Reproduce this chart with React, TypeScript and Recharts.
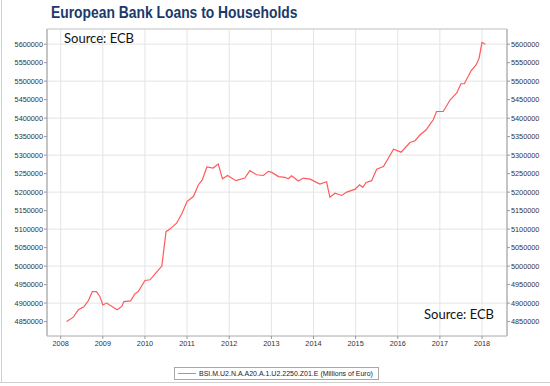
import { LineChart, Line, XAxis, YAxis, CartesianGrid, ReferenceArea } from "recharts";

// decimal year of each reading
const years = [
  2008.14, 2008.3, 2008.42, 2008.55, 2008.66, 2008.75, 2008.85, 2008.93, 2009.0, 2009.09,
  2009.34, 2009.45, 2009.5, 2009.66, 2009.76, 2009.84, 2010.0, 2010.12, 2010.24, 2010.4,
  2010.5, 2010.59, 2010.75, 2010.88, 2011.0, 2011.15, 2011.27, 2011.36, 2011.47, 2011.62,
  2011.74, 2011.84, 2011.96, 2012.16, 2012.37, 2012.49, 2012.65, 2012.81, 2012.93, 2013.0,
  2013.17, 2013.32, 2013.4, 2013.48, 2013.64, 2013.76, 2013.92, 2014.15, 2014.31, 2014.39,
  2014.51, 2014.67, 2014.79, 2014.99, 2015.09, 2015.17, 2015.25, 2015.38, 2015.5, 2015.66,
  2015.9, 2016.08, 2016.29, 2016.41, 2016.53, 2016.67, 2016.78, 2016.84, 2016.92, 2017.08,
  2017.24, 2017.4, 2017.5, 2017.58, 2017.74, 2017.86, 2017.93, 2018.0, 2018.08,
];

// loans to households, millions of euro
const loans = [
  4850000, 4862000, 4882000, 4890000, 4907000, 4931000, 4931000, 4918000, 4895000, 4900000,
  4882000, 4891000, 4904000, 4906000, 4925000, 4931000, 4961000, 4963000, 4979000, 5000000,
  5093000, 5100000, 5116000, 5143000, 5175000, 5188000, 5220000, 5233000, 5268000, 5265000,
  5276000, 5236000, 5245000, 5231000, 5238000, 5258000, 5247000, 5245000, 5256000, 5254000,
  5242000, 5240000, 5236000, 5244000, 5230000, 5238000, 5235000, 5222000, 5228000, 5186000,
  5197000, 5191000, 5200000, 5208000, 5220000, 5213000, 5226000, 5231000, 5262000, 5269000,
  5316000, 5308000, 5334000, 5339000, 5355000, 5368000, 5386000, 5395000, 5418000, 5418000,
  5449000, 5468000, 5493000, 5493000, 5528000, 5544000, 5562000, 5605000, 5600000,
];

const yearTicks = [2008, 2009, 2010, 2011, 2012, 2013, 2014, 2015, 2016, 2017, 2018];
const valueTicks = [
  4850000, 4900000, 4950000, 5000000, 5050000, 5100000, 5150000, 5200000,
  5250000, 5300000, 5350000, 5400000, 5450000, 5500000, 5550000, 5600000,
];

const data = years.map((x, i) => ({ x, v: loans[i] }));

const X_DOMAIN = [2007.675, 2018.593];
const Y_DOMAIN = [4811000, 5641000];

const tickStyle = { fontSize: 7.3, fill: "#333", fontFamily: "Liberation Sans, Arial, sans-serif" };
const sourceStyle: React.CSSProperties = {
  position: "absolute",
  fontFamily: "Lato, sans-serif",
  fontSize: 13,
  color: "#111",
  lineHeight: "15px",
};

export default function App() {
  return (
    <div style={{ position: "absolute", left: 0, top: 0, width: 550, height: 386, background: "#fff", overflow: "hidden" }}>
      <div style={{ position: "absolute", left: 1, top: 0, width: 0, height: 382, borderLeft: "1px solid #cfcfcf" }} />
      <div style={{ position: "absolute", left: 0, top: 382, width: 550, height: 0, borderTop: "1px solid #cfcfcf" }} />
      <div
        style={{
          position: "absolute",
          left: 51,
          top: 2,
          fontFamily: "Liberation Sans, Arial, sans-serif",
          fontWeight: "bold",
          fontSize: 16.5,
          lineHeight: "20px",
          color: "#1b3a6b",
          whiteSpace: "nowrap",
          transform: "scaleX(0.84)",
          transformOrigin: "left top",
        }}
      >
        European Bank Loans to Households
      </div>
      <LineChart width={550} height={386} data={data} margin={{ top: 29, right: 0, bottom: 0, left: 0 }}>
        <CartesianGrid yAxisId="left" stroke="#e4e4e4" strokeWidth={1} />
        <XAxis
          dataKey="x"
          type="number"
          domain={X_DOMAIN}
          ticks={yearTicks}
          allowDataOverflow
          height={50}
          tick={tickStyle}
          tickSize={3}
          tickMargin={2}
          tickLine={{ stroke: "#999" }}
          axisLine={{ stroke: "#c8c8c8" }}
        />
        <YAxis
          yAxisId="left"
          orientation="left"
          width={47}
          domain={Y_DOMAIN}
          ticks={valueTicks}
          allowDataOverflow
          tick={tickStyle}
          tickSize={3}
          tickMargin={1}
          tickLine={{ stroke: "#999" }}
          axisLine={{ stroke: "#bdbdbd", strokeWidth: 1.5 }}
        />
        <YAxis
          yAxisId="right"
          orientation="right"
          width={43}
          domain={Y_DOMAIN}
          ticks={valueTicks}
          allowDataOverflow
          tick={tickStyle}
          tickSize={3}
          tickMargin={1}
          tickLine={{ stroke: "#999" }}
          axisLine={{ stroke: "#bdbdbd", strokeWidth: 1.5 }}
        />
        <ReferenceArea
          yAxisId="left"
          x1={X_DOMAIN[0]}
          x2={X_DOMAIN[1]}
          y1={Y_DOMAIN[0]}
          y2={Y_DOMAIN[1]}
          fill="none"
          stroke="#cccccc"
        />
        <Line
          yAxisId="left"
          type="linear"
          dataKey="v"
          stroke="#ff5a5a"
          strokeWidth={1.2}
          dot={false}
          isAnimationActive={false}
        />
      </LineChart>
      <div style={{ ...sourceStyle, left: 64, top: 31 }}>Source: ECB</div>
      <div style={{ ...sourceStyle, left: 424, top: 307 }}>Source: ECB</div>
      <div
        style={{
          position: "absolute",
          left: 174,
          top: 367,
          width: 203,
          height: 11,
          border: "1px solid #a8a8a8",
          display: "flex",
          alignItems: "center",
          fontFamily: "Liberation Sans, Arial, sans-serif",
          fontSize: 7,
          color: "#222",
          whiteSpace: "nowrap",
        }}
      >
        <span style={{ display: "inline-block", width: 18, height: 0, borderTop: "1.5px solid #ff7070", margin: "0 3px 0 3px" }} />
        BSI.M.U2.N.A.A20.A.1.U2.2250.Z01.E (Millions of Euro)
      </div>
    </div>
  );
}
